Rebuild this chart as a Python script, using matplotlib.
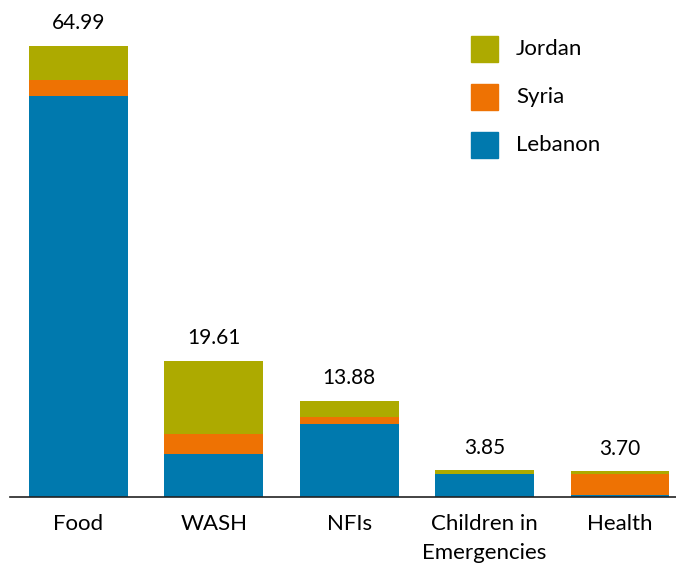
import matplotlib
matplotlib.use('Agg')
import numpy as np
from matplotlib import pyplot as plt
from matplotlib.patches import Rectangle

categories = ['Food', 'WASH', 'NFIs', 'Children in\nEmergencies', 'Health']
lebanon = [57.8, 6.2, 10.56, 3.25, 0.35]
syria = [2.26, 2.84, 0.92, 0.0, 2.93]
jordan = [4.93, 10.57, 2.4, 0.6, 0.42]
totals = ['64.99', '19.61', '13.88', '3.85', '3.70']

colors = {'Lebanon': '#0079AE', 'Syria': '#EE7203', 'Jordan': '#ADAA00'}

plt.rcParams['font.family'] = ['Lato', 'DejaVu Sans']

W, H = 676, 568
fig = plt.figure(figsize=(W / 100, H / 100), dpi=100)
ax = fig.add_axes([10 / W, 71 / H, 666 / W, 497 / H])

x = np.arange(len(categories))
w = 0.73
leb = np.array(lebanon)
syr = np.array(syria)
jor = np.array(jordan)

ax.bar(x, leb, w, color=colors['Lebanon'])
ax.bar(x, syr, w, bottom=leb, color=colors['Syria'])
ax.bar(x, jor, w, bottom=leb + syr, color=colors['Jordan'])

tops = leb + syr + jor
for xi, t, lab in zip(x, tops, totals):
    ax.annotate(lab, (xi, t), xytext=(0, 9), textcoords='offset points',
                ha='center', va='bottom', fontsize=15)

ax.set_xlim(-0.505, 4.413)
ax.set_ylim(0, 71.6)
ax.set_xticks(x)
ax.set_xticklabels(categories, fontsize=16, linespacing=1.6)
ax.tick_params(axis='x', length=0, pad=12)
ax.set_yticks([])
for s in ['top', 'right', 'left']:
    ax.spines[s].set_visible(False)
ax.spines['bottom'].set_color('#222222')
ax.spines['bottom'].set_linewidth(1.2)

# legend drawn by hand: squares + labels, top to bottom
legend_items = ['Jordan', 'Syria', 'Lebanon']
for i, name in enumerate(legend_items):
    cy = 49 + i * 48
    ax.add_patch(Rectangle(((471 - 10) / 666, (497 - cy - 13) / 497), 27 / 666, 26 / 497,
                           transform=ax.transAxes, color=colors[name], clip_on=False))
    ax.text((516 - 10) / 666, (497 - cy) / 497, name, transform=ax.transAxes,
            fontsize=16, va='center', ha='left')

plt.savefig('out.png', dpi=100)
